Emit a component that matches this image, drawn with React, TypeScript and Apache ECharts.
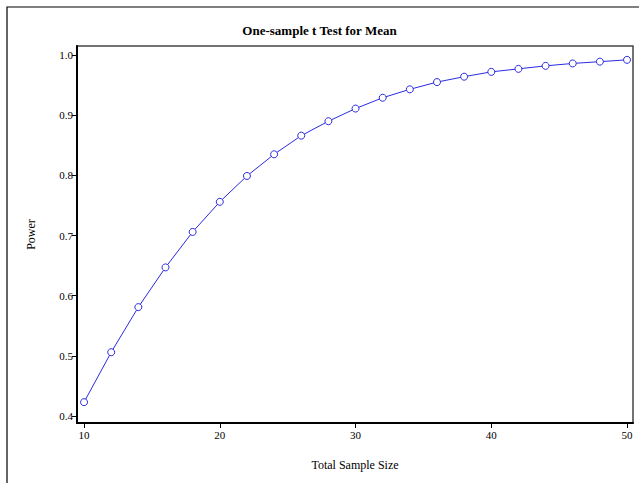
import React, { useEffect, useRef } from "react";
import * as echarts from "echarts";

const sampleSizes = [10, 12, 14, 16, 18, 20, 22, 24, 26, 28, 30, 32, 34, 36, 38, 40, 42, 44, 46, 48, 50];
const powerValues = [0.423, 0.506, 0.581, 0.647, 0.706, 0.756, 0.799, 0.835, 0.866, 0.890, 0.911, 0.929, 0.943, 0.955, 0.964, 0.972, 0.977, 0.982, 0.986, 0.989, 0.992];
const xTicks = [10, 20, 30, 40, 50];
const yTicks = [0.4, 0.5, 0.6, 0.7, 0.8, 0.9, 1.0];

const FONT = "Liberation Serif";

export default function App() {
  const ref = useRef<HTMLDivElement>(null);
  useEffect(() => {
    if (!ref.current) return;
    const chart = echarts.init(ref.current, null, { renderer: "svg" });
    const data = sampleSizes.map((x, i) => [x, powerValues[i]]);
    chart.setOption({
      animation: false,
      backgroundColor: "#ffffff",
      title: {
        text: "One-sample t Test for Mean",
        left: "center",
        top: 19,
        textStyle: { fontFamily: FONT, fontSize: 13, fontWeight: "bold", color: "#000" },
      },
      graphic: [
        {
          type: "rect",
          shape: { x: 7, y: 7, width: 660, height: 500 },
          style: { fill: "none", stroke: "#000", lineWidth: 1.2 },
          silent: true,
        },
      ],
      grid: {
        left: 77,
        top: 46,
        right: 6,
        bottom: 60,
        show: true,
        borderColor: "#444",
        borderWidth: 1.5,
        backgroundColor: "transparent",
      },
      xAxis: {
        type: "value",
        min: 9.48,
        max: 50.44,
        name: "Total Sample Size",
        nameLocation: "middle",
        nameGap: 36,
        nameTextStyle: { fontFamily: FONT, fontSize: 12, color: "#000" },
        axisLine: { show: true, onZero: false, lineStyle: { color: "#000", width: 2 } },
        axisTick: { show: true, length: 5, customValues: xTicks, lineStyle: { color: "#000", width: 1 } },
        axisLabel: {
          customValues: xTicks,
          fontFamily: FONT,
          fontSize: 11,
          color: "#000",
          margin: 6,
        },
        splitLine: { show: false },
      },
      yAxis: {
        type: "value",
        min: 0.3884,
        max: 1.015,
        name: "Power",
        nameLocation: "middle",
        nameGap: 40,
        nameTextStyle: { fontFamily: FONT, fontSize: 12, color: "#000" },
        axisLine: { show: true, onZero: false, lineStyle: { color: "#000", width: 2 } },
        axisTick: { show: true, length: 5, customValues: yTicks, lineStyle: { color: "#000", width: 1 } },
        axisLabel: {
          customValues: yTicks,
          fontFamily: FONT,
          fontSize: 11,
          color: "#000",
          margin: 4,
          formatter: (v: number) => v.toFixed(1),
        },
        splitLine: { show: false },
      },
      series: [
        {
          type: "line",
          data,
          symbol: "circle",
          symbolSize: 7,
          showAllSymbol: true,
          itemStyle: { color: "#ffffff", borderColor: "#2a2ae0", borderWidth: 1 },
          lineStyle: { color: "#2a2ae0", width: 1 },
          z: 3,
        },
      ],
    });
    return () => chart.dispose();
  }, []);
  return (
    <div
      ref={ref}
      style={{ position: "fixed", left: 0, top: 0, width: 639, height: 483, background: "#fff" }}
    />
  );
}
